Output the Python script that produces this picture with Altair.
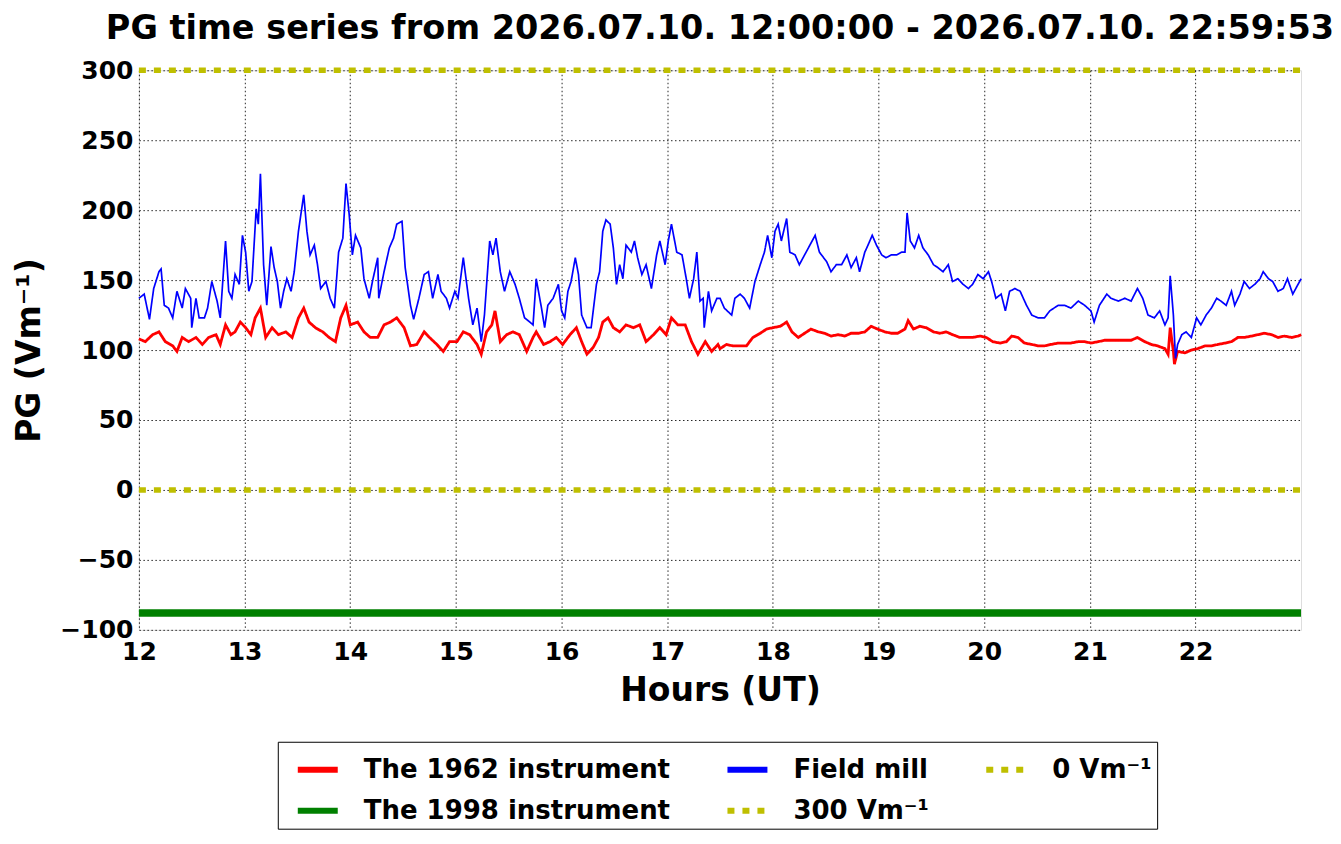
import altair as alt
import pandas as pd

# ---------------- data ----------------
fm_hours = [12.00, 12.05, 12.10, 12.14, 12.19, 12.21, 12.24, 12.28, 12.32, 12.36, 12.41, 12.44, 12.49, 12.50,
            12.54, 12.57, 12.62, 12.65, 12.69, 12.74, 12.77, 12.82, 12.85, 12.88, 12.91, 12.95, 12.98, 13.01,
            13.04, 13.07, 13.11, 13.13, 13.15, 13.18, 13.21, 13.25, 13.28, 13.31, 13.34, 13.37, 13.40, 13.44,
            13.47, 13.51, 13.56, 13.59, 13.62, 13.66, 13.69, 13.72, 13.77, 13.81, 13.85, 13.89, 13.93, 13.96,
            13.99, 14.02, 14.05, 14.10, 14.13, 14.18, 14.21, 14.26, 14.27, 14.32, 14.37, 14.41, 14.44, 14.49,
            14.52, 14.57, 14.60, 14.65, 14.70, 14.74, 14.78, 14.83, 14.86, 14.91, 14.94, 14.99, 15.02, 15.07,
            15.12, 15.16, 15.20, 15.24, 15.27, 15.32, 15.35, 15.38, 15.42, 15.46, 15.51, 15.56, 15.60, 15.65,
            15.70, 15.73, 15.76, 15.81, 15.84, 15.87, 15.92, 15.97, 16.00, 16.03, 16.06, 16.09, 16.13, 16.16,
            16.19, 16.24, 16.28, 16.33, 16.36, 16.39, 16.42, 16.46, 16.49, 16.52, 16.55, 16.58, 16.61, 16.66,
            16.69, 16.72, 16.76, 16.80, 16.85, 16.90, 16.93, 16.98, 17.01, 17.04, 17.09, 17.14, 17.18, 17.21,
            17.25, 17.28, 17.31, 17.34, 17.35, 17.39, 17.42, 17.47, 17.50, 17.54, 17.61, 17.64, 17.69, 17.73,
            17.78, 17.83, 17.88, 17.92, 17.95, 17.99, 18.02, 18.05, 18.08, 18.13, 18.16, 18.21, 18.25, 18.30,
            18.35, 18.40, 18.44, 18.51, 18.55, 18.60, 18.65, 18.70, 18.74, 18.79, 18.82, 18.87, 18.90, 18.94,
            18.98, 19.03, 19.07, 19.12, 19.17, 19.22, 19.25, 19.27, 19.30, 19.34, 19.38, 19.42, 19.47, 19.52,
            19.56, 19.61, 19.66, 19.70, 19.75, 19.80, 19.85, 19.89, 19.94, 19.99, 20.04, 20.07, 20.11, 20.16,
            20.20, 20.24, 20.29, 20.34, 20.37, 20.40, 20.45, 20.51, 20.57, 20.62, 20.70, 20.76, 20.82, 20.89,
            20.95, 21.01, 21.04, 21.09, 21.16, 21.20, 21.27, 21.33, 21.39, 21.45, 21.50, 21.55, 21.61, 21.66,
            21.71, 21.74, 21.76, 21.79, 21.81, 21.83, 21.87, 21.91, 21.96, 22.01, 22.05, 22.10, 22.15, 22.20,
            22.24, 22.29, 22.34, 22.37, 22.42, 22.46, 22.51, 22.56, 22.61, 22.64, 22.69, 22.73, 22.78, 22.83,
            22.87, 22.92, 22.97, 23.00]
fm_values = [137, 140, 122, 144, 156, 158, 132, 130, 123, 142, 130, 144, 137, 116,
             137, 123, 123, 130, 149, 135, 123, 178, 142, 137, 154, 147, 182, 170,
             142, 149, 201, 190, 226, 161, 132, 174, 159, 149, 130, 142, 151, 142,
             156, 185, 211, 185, 168, 175, 161, 144, 149, 137, 130, 170, 180, 219,
             197, 168, 182, 173, 151, 137, 149, 166, 137, 156, 173, 180, 190, 192,
             159, 132, 122, 137, 154, 156, 137, 154, 142, 137, 130, 142, 137, 166,
             137, 118, 130, 106, 125, 178, 168, 180, 156, 142, 156, 147, 137, 123,
             120, 118, 151, 130, 116, 132, 137, 147, 128, 123, 142, 149, 166, 154,
             125, 116, 116, 147, 156, 185, 193, 190, 173, 147, 161, 151, 175, 170,
             178, 166, 154, 161, 144, 168, 178, 161, 178, 190, 170, 168, 151, 137,
             151, 170, 135, 137, 116, 142, 128, 137, 137, 130, 125, 137, 140, 137,
             130, 149, 161, 170, 182, 166, 185, 190, 178, 194, 170, 168, 161, 168,
             175, 182, 170, 163, 156, 161, 161, 168, 159, 166, 156, 170, 175, 182,
             175, 168, 166, 168, 168, 170, 170, 198, 178, 173, 182, 173, 168, 161,
             159, 156, 161, 149, 151, 147, 144, 147, 154, 151, 156, 149, 137, 140,
             128, 142, 144, 142, 137, 132, 125, 123, 123, 128, 132, 132, 130, 135,
             132, 128, 120, 132, 140, 137, 135, 137, 135, 144, 137, 125, 123, 128,
             118, 123, 153, 125, 94, 104, 111, 113, 109, 123, 118, 125, 130, 137,
             135, 132, 142, 132, 140, 149, 144, 147, 151, 156, 151, 149, 142, 144,
             151, 140, 147, 151]

r62_hours = [12.00, 12.06, 12.13, 12.19, 12.25, 12.32, 12.36, 12.41, 12.47, 12.54, 12.60, 12.66, 12.73, 12.77,
             12.82, 12.87, 12.91, 12.96, 13.01, 13.06, 13.10, 13.15, 13.20, 13.26, 13.32, 13.39, 13.45, 13.51,
             13.56, 13.61, 13.67, 13.74, 13.80, 13.86, 13.91, 13.96, 14.00, 14.07, 14.13, 14.19, 14.26, 14.32,
             14.38, 14.44, 14.51, 14.57, 14.63, 14.70, 14.75, 14.82, 14.88, 14.94, 15.01, 15.07, 15.13, 15.20,
             15.24, 15.29, 15.34, 15.37, 15.42, 15.48, 15.54, 15.60, 15.67, 15.73, 15.76, 15.83, 15.89, 15.95,
             16.01, 16.08, 16.14, 16.19, 16.24, 16.30, 16.35, 16.39, 16.44, 16.49, 16.55, 16.61, 16.68, 16.74,
             16.80, 16.87, 16.93, 16.99, 17.04, 17.10, 17.17, 17.23, 17.29, 17.36, 17.42, 17.48, 17.50, 17.56,
             17.62, 17.69, 17.75, 17.81, 17.88, 17.94, 18.00, 18.07, 18.13, 18.18, 18.24, 18.30, 18.36, 18.43,
             18.49, 18.55, 18.62, 18.68, 18.74, 18.81, 18.87, 18.93, 18.99, 19.06, 19.12, 19.18, 19.25, 19.28,
             19.33, 19.39, 19.45, 19.52, 19.58, 19.64, 19.70, 19.77, 19.83, 19.89, 19.96, 20.02, 20.08, 20.15,
             20.21, 20.26, 20.32, 20.38, 20.45, 20.51, 20.57, 20.63, 20.70, 20.76, 20.82, 20.89, 20.95, 21.01,
             21.08, 21.14, 21.20, 21.27, 21.33, 21.39, 21.45, 21.52, 21.58, 21.64, 21.71, 21.74, 21.76, 21.79,
             21.80, 21.83, 21.90, 21.96, 22.02, 22.09, 22.15, 22.21, 22.28, 22.34, 22.40, 22.46, 22.53, 22.59,
             22.65, 22.72, 22.78, 22.84, 22.91, 22.97, 23.00]
r62_values = [108, 106, 111, 113, 106, 103, 99, 109, 106, 109, 104, 109, 111, 104,
              118, 111, 113, 120, 116, 111, 123, 130, 109, 116, 111, 113, 109, 123,
              130, 120, 116, 113, 109, 106, 123, 132, 118, 120, 113, 109, 109, 118,
              120, 123, 116, 103, 104, 113, 109, 104, 99, 106, 106, 113, 111, 104,
              97, 113, 118, 128, 106, 111, 113, 111, 99, 109, 113, 104, 106, 109,
              104, 111, 116, 106, 97, 102, 109, 120, 123, 116, 113, 118, 116, 118,
              106, 111, 116, 111, 123, 118, 118, 106, 97, 106, 99, 104, 101, 104,
              103, 103, 103, 109, 112, 115, 116, 117, 120, 113, 109, 112, 115, 113,
              112, 110, 111, 110, 112, 112, 113, 117, 115, 113, 112, 112, 115, 121,
              115, 117, 116, 113, 112, 113, 111, 109, 109, 109, 110, 109, 106, 105,
              106, 110, 109, 105, 104, 103, 103, 104, 105, 105, 105, 106, 106, 105,
              106, 107, 107, 107, 107, 107, 109, 106, 104, 103, 101, 97, 116, 99,
              90, 99, 98, 100, 101, 103, 103, 104, 105, 106, 109, 109, 110, 111,
              112, 111, 109, 110, 109, 110, 111]

span_hours = [12.0, 22.998]
r98_level = -88
ref_300 = 300
ref_0 = 0

# legend order as in the reference (filled column by column)
series_names = ["The 1962 instrument", "The 1998 instrument", "Field mill",
                "300 Vm\u207b\u00b9", "0 Vm\u207b\u00b9"]
series_colors = ["#ff0000", "#008000", "#0000ff", "#bfbf00", "#bfbf00"]
series_dashes = [[1, 0], [1, 0], [1, 0], [7, 8], [7, 8]]

x_ticks = list(range(12, 23))
y_ticks = list(range(-100, 301, 50))

# ---------------- tables ----------------
df_r62 = pd.DataFrame({"hour": r62_hours, "pg": r62_values, "series": series_names[0]})
df_r98 = pd.DataFrame({"hour": span_hours, "pg": [r98_level] * 2, "series": series_names[1]})
df_fm = pd.DataFrame({"hour": fm_hours, "pg": fm_values, "series": series_names[2]})
df_300 = pd.DataFrame({"hour": span_hours, "pg": [ref_300] * 2, "series": series_names[3]})
df_0 = pd.DataFrame({"hour": span_hours, "pg": [ref_0] * 2, "series": series_names[4]})

FONT = "DejaVu Sans"

x_enc = alt.X("hour:Q",
              scale=alt.Scale(domain=[12, 22.998], nice=False, zero=False),
              axis=alt.Axis(values=x_ticks, format="d", title="Hours (UT)",
                            grid=True, ticks=False, domain=False,
                            labelFontSize=25, labelFontWeight="bold", labelFont=FONT,
                            labelColor="black", labelPadding=10,
                            titleFontSize=33, titleFontWeight="bold", titleFont=FONT,
                            titleColor="black", titlePadding=10,
                            gridColor="black", gridDash=[1.5, 2.5], gridWidth=1,
                            gridOpacity=0.85, labelFlush=False))
y_enc = alt.Y("pg:Q",
              scale=alt.Scale(domain=[-100, 300], nice=False, zero=False),
              axis=alt.Axis(values=y_ticks, title="PG (Vm\u207b\u00b9)",
                            grid=True, ticks=False, domain=False,
                            labelFontSize=25, labelFontWeight="bold", labelFont=FONT,
                            labelColor="black", labelPadding=6,
                            titleFontSize=33, titleFontWeight="bold", titleFont=FONT,
                            titleColor="black", titleX=-109, titleY=280,
                            titleAngle=270, titleAlign="center", titleBaseline="middle",
                            gridColor="black", gridDash=[1.5, 2.5], gridWidth=1,
                            gridOpacity=0.85, labelFlush=False))

legend = alt.Legend(title=None, orient="none", legendX=139, legendY=672,
                    columns=3, gridAlign="each", columnPadding=42, rowPadding=5, padding=5,
                    symbolType="stroke", symbolSize=1600, symbolStrokeWidth=6,
                    symbolOffset=12,
                    labelFontSize=26, labelFontWeight="bold", labelFont=FONT,
                    labelColor="black", labelOffset=23, labelLimit=1000,
                    strokeColor="black", fillColor="white", cornerRadius=0)

color_enc = alt.Color("series:N",
                      scale=alt.Scale(domain=series_names, range=series_colors),
                      legend=legend)
dash_enc = alt.StrokeDash("series:N",
                          scale=alt.Scale(domain=series_names, range=series_dashes),
                          legend=legend)


def line(df, width):
    return alt.Chart(df).mark_line(strokeWidth=width, strokeCap="butt").encode(
        x=x_enc, y=y_enc, color=color_enc, strokeDash=dash_enc)


chart = alt.layer(
    line(df_r62, 2.8),
    line(df_r98, 7.5),
    line(df_fm, 1.7),
    line(df_300, 5.5),
    line(df_0, 5.5),
).properties(
    width=1163, height=560,
    title=alt.TitleParams("PG time series from 2026.07.10. 12:00:00 - 2026.07.10. 22:59:53",
                          fontSize=33.5, fontWeight="bold", font=FONT, color="black",
                          anchor="middle", offset=12),
    autosize=alt.AutoSizeParams(type="none"),
    padding={"left": 131, "top": 62, "right": 32, "bottom": 212},
).configure_view(
    stroke="black", strokeWidth=1.5, fill="white"
).configure(background="white")

chart.save("out.html", embed_options={"renderer": "svg", "actions": False})
